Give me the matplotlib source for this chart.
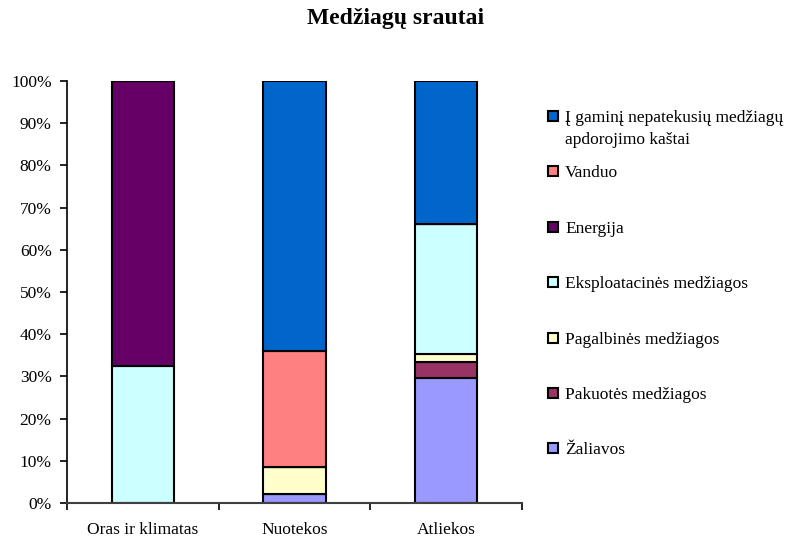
import numpy as np
import matplotlib.pyplot as plt
from matplotlib.patches import Rectangle

plt.rcParams['font.family'] = ['Liberation Serif', 'DejaVu Serif']

categories = ["Oras ir klimatas", "Nuotekos", "Atliekos"]

# series, bottom to top (percent of each bar)
series_names = [
    "Žaliavos",
    "Pakuotės medžiagos",
    "Pagalbinės medžiagos",
    "Eksploatacinės medžiagos",
    "Energija",
    "Vanduo",
    "Į gaminį nepatekusių medžiagų\napdorojimo kaštai",
]
zaliavos = [0.0, 2.1, 29.6]
pakuotes = [0.0, 0.0, 3.8]
pagalbines = [0.0, 6.4, 1.9]
eksploatacines = [32.5, 0.0, 30.8]
energija = [67.5, 0.0, 0.0]
vanduo = [0.0, 27.5, 0.0]
kastai = [0.0, 64.0, 33.9]

colors = ["#9999FF", "#993366", "#FFFFCC", "#CCFFFF", "#660066", "#FF8080", "#0066CC"]

data = [zaliavos, pakuotes, pagalbines, eksploatacines, energija, vanduo, kastai]

W, H = 809, 542
fig = plt.figure(figsize=(W / 100, H / 100), dpi=100)
ax = fig.add_axes([67 / W, 39 / H, 455 / W, 422 / H])

x = np.arange(len(categories))
bottom = np.zeros(len(categories))
for vals, col in zip(data, colors):
    vals = np.array(vals)
    ax.bar(x, vals, 0.41, bottom=bottom, color=col, edgecolor="black", linewidth=1.5)
    bottom += vals

ax.set_xlim(-0.5, 2.5)
ax.set_ylim(0, 100)
ax.set_yticks(np.arange(0, 101, 10))
ax.set_yticklabels([f"{v}%" for v in range(0, 101, 10)], fontsize=12.5)
ax.set_xticks(x)
ax.set_xticklabels(categories, fontsize=12.5)
ax.set_xticks([-0.5, 0.5, 1.5, 2.5], minor=True)
ax.tick_params(axis="x", which="major", length=0, pad=14)
ax.tick_params(axis="x", which="minor", length=5, direction="out", width=1.2)
ax.tick_params(axis="y", length=5, direction="out", width=1.2, pad=6)
for s in ["top", "right"]:
    ax.spines[s].set_visible(False)
ax.spines["bottom"].set_color("#404040")
ax.spines["bottom"].set_linewidth(1.5)
ax.spines["left"].set_linewidth(1.2)

fig.text(0.489, 0.965, "Medžiagų srautai", ha="center", va="center",
         fontsize=17, fontweight="bold")

# legend drawn by hand: top entry first, marker lined up with the first text line
y0, step, line_gap = 116, 55.4, 22
for i, (name, col) in enumerate(zip(series_names[::-1], colors[::-1])):
    yc = y0 + step * i
    fig.add_artist(Rectangle(((548) / W, 1 - (yc + 5) / H), 10 / W, 10 / H,
                             transform=fig.transFigure, facecolor=col,
                             edgecolor="black", linewidth=1.5))
    for k, line in enumerate(name.split("\n")):
        fig.text(565 / W, 1 - (yc + line_gap * k) / H, line, ha="left",
                 va="center_baseline", fontsize=12.5)

fig.savefig("out.png", dpi=100)
